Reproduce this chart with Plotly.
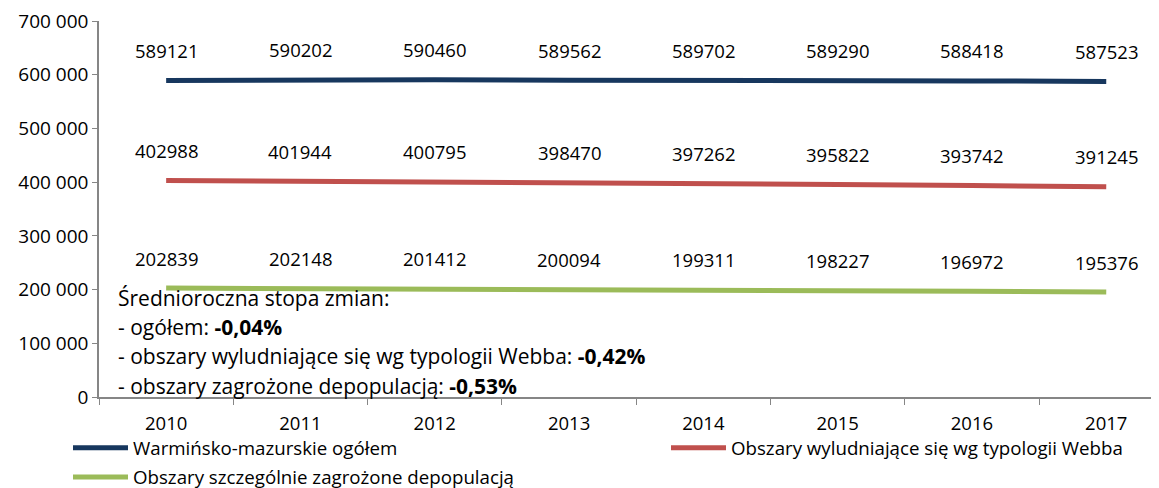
import plotly.graph_objects as go

years = ["2010", "2011", "2012", "2013", "2014", "2015", "2016", "2017"]
ogolem = [589121, 590202, 590460, 589562, 589702, 589290, 588418, 587523]
webba = [402988, 401944, 400795, 398470, 397262, 395822, 393742, 391245]
depop = [202839, 202148, 201412, 200094, 199311, 198227, 196972, 195376]

names = ["Warmińsko-mazurskie ogółem",
         "Obszary wyludniające się wg typologii Webba",
         "Obszary szczególnie zagrożone depopulacją"]
colors = ["#17375E", "#C0504D", "#9BBB59"]
series = [ogolem, webba, depop]
legend_ids = ["legend", "legend2", "legend"]
groups = ["a", "b", "c"]

ytick_vals = [0, 100000, 200000, 300000, 400000, 500000, 600000, 700000]
ytick_text = ["0", "100 000", "200 000", "300 000", "400 000", "500 000", "600 000", "700 000"]

note_lines = [
    "Średnioroczna stopa zmian:",
    "- ogółem: <b>-0,04%</b>",
    "- obszary wyludniające się wg typologii Webba: <b>-0,42%</b>",
    "- obszary zagrożone depopulacją: <b>-0,53%</b>",
]

FONT = "Open Sans"
OFF = 8  # page body margin
W, H = 1159 - OFF, 488 - OFF
ML, MR, MT, MB = 99 - OFF, 0, 21 - OFF, 91
PW, PH = W - ML - MR, H - MT - MB
BOTTOM = H - MB

fig = go.Figure()
for name, col, vals, lg, grp in zip(names, colors, series, legend_ids, groups):
    fig.add_trace(go.Scatter(x=years, y=vals, mode="lines", name=name,
                             legend=lg, legendgroup=grp,
                             line=dict(color=col, width=5)))

annotations = []
for vals in series:
    for i, v in enumerate(vals):
        annotations.append(dict(x=i, y=v, xref="x", yref="y", text=str(v),
                                showarrow=False, yshift=30,
                                font=dict(family=FONT, size=18.5, color="#000")))

note_y = [298, 327, 356, 386]
for txt, py in zip(note_lines, note_y):
    annotations.append(dict(xref="paper", yref="paper", x=(115.5 - OFF - ML) / PW,
                            y=(BOTTOM - (py - OFF)) / PH, xanchor="left", yanchor="middle",
                            text=txt, showarrow=False,
                            font=dict(family=FONT, size=21, color="#000")))

leg_y = -((429 - OFF) - BOTTOM) / PH
leg_common = dict(orientation="v", xanchor="left", y=leg_y, yanchor="top",
                  traceorder="grouped", tracegroupgap=2, itemwidth=55,
                  font=dict(family=FONT, size=18.7, color="#000"),
                  bgcolor="rgba(0,0,0,0)")

fig.update_layout(
    width=W, height=H,
    margin=dict(l=ML, r=MR, t=MT, b=MB, autoexpand=False),
    paper_bgcolor="white", plot_bgcolor="white",
    font=dict(family=FONT, size=18.5, color="#000"),
    showlegend=True,
    legend=dict(x=(60 - ML) / PW, **leg_common),
    legend2=dict(x=(658 - ML) / PW, **leg_common),
    annotations=annotations,
    xaxis=dict(type="category", range=[-0.5, -0.5 + PW / 134.3], showgrid=False,
               automargin=False,
               showline=True, linecolor="#868686", linewidth=1.5,
               ticks="outside", tickson="boundaries", ticklen=6, tickcolor="#868686",
               ticklabelstandoff=9, tickfont=dict(family=FONT, size=18.5)),
    yaxis=dict(range=[0, 700000], showgrid=False, zeroline=False, automargin=False,
               showline=True, linecolor="#868686", linewidth=1.5,
               ticks="outside", ticklen=5, tickcolor="#868686",
               tickvals=ytick_vals, ticktext=ytick_text, ticklabeloverflow="allow",
               tickfont=dict(family=FONT, size=19)),
)

fig.write_html("out.html")
